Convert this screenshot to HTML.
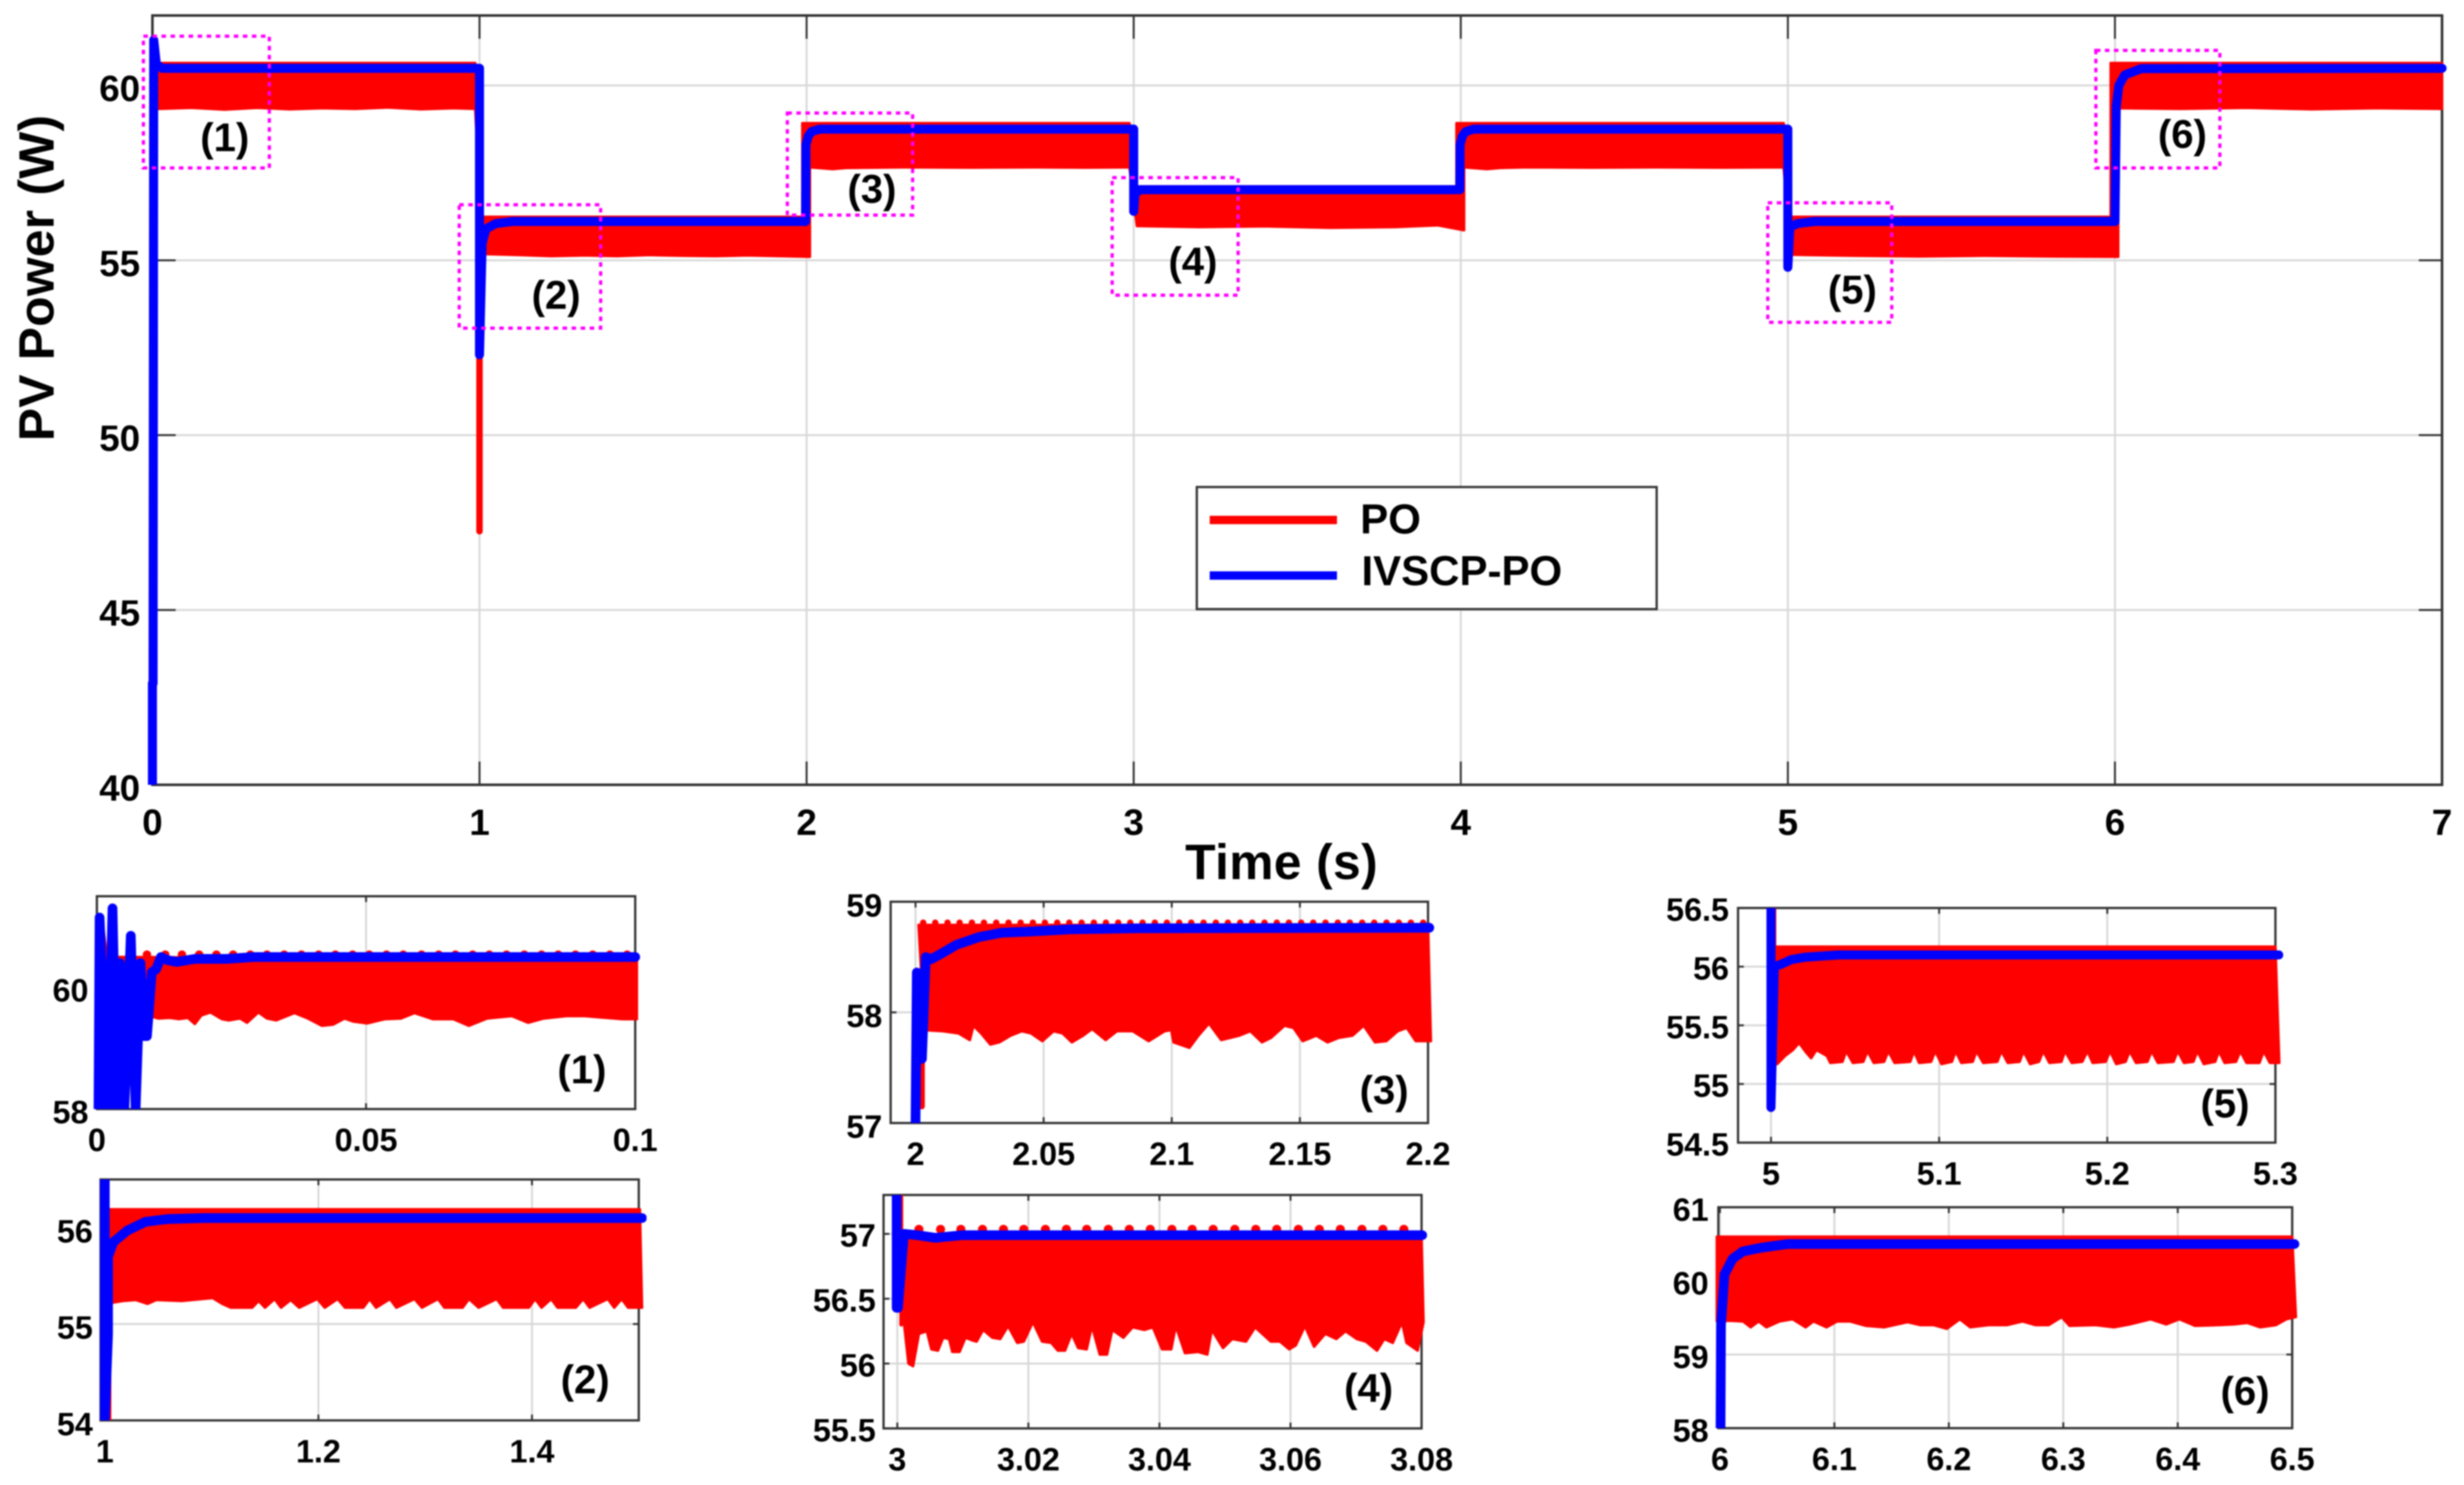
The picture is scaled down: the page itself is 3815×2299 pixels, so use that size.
<!DOCTYPE html>
<html lang="en">
<head>
<meta charset="utf-8">
<title>PV Power comparison of PO and IVSCP-PO</title>
<style>
html,body{margin:0;padding:0;background:#fff;}
svg{display:block;filter:blur(1.1px);}
text{font-family:"Liberation Sans",Arial,sans-serif;font-weight:bold;fill:#000;}
</style>
</head>
<body>
<svg id="chart" xmlns="http://www.w3.org/2000/svg" width="3815" height="2299" viewBox="0 0 3815 2299">
  <rect x="0" y="0" width="3815" height="2299" fill="#ffffff"/>
  <g id="panels"></g>

  <text transform="translate(83,683) rotate(-90)" font-size="77" textLength="505">PV Power (W)</text>
  <text x="1835" y="1361" font-size="77" textLength="298">Time (s)</text>

  <g fill="none" stroke="#ff00ff" stroke-width="5" stroke-dasharray="7 7">
    <rect x="222" y="56" width="195" height="204"/>
    <rect x="711" y="317" width="219" height="191"/>
    <rect x="1219" y="175" width="194" height="158"/>
    <rect x="1722" y="275" width="195" height="182"/>
    <rect x="2737" y="314" width="192" height="185"/>
    <rect x="3245" y="78" width="192" height="182"/>
  </g>
  <g font-size="62" text-anchor="middle">
    <text x="348" y="234">(1)</text>
    <text x="861" y="478">(2)</text>
    <text x="1350" y="314">(3)</text>
    <text x="1847" y="426">(4)</text>
    <text x="2868" y="470">(5)</text>
    <text x="3379" y="229">(6)</text>
  </g>

  <g>
    <rect x="1853" y="754" width="712" height="189" fill="#ffffff" stroke="#333333" stroke-width="3.5"/>
    <line x1="1873" y1="805" x2="2070" y2="805" stroke="#ff0000" stroke-width="13"/>
    <line x1="1873" y1="891" x2="2070" y2="891" stroke="#0000ff" stroke-width="13"/>
    <text x="2106" y="826" font-size="65">PO</text>
    <text x="2108" y="906" font-size="65">IVSCP-PO</text>
  </g>

  <g font-size="62" text-anchor="middle">
    <text x="901" y="1677">(1)</text>
    <text x="906" y="2157">(2)</text>
    <text x="2143" y="1709">(3)</text>
    <text x="2119" y="2170">(4)</text>
    <text x="3445" y="1730">(5)</text>
    <text x="3476" y="2175">(6)</text>
  </g>
</svg>
<script>
/* ---------- main plot data ---------- */
const mainXTicks = [0,1,2,3,4,5,6,7];
const mainYTicks = [40,45,50,55,60];
const mainPoUpperTime = [0.02,0.987,1.01,1.987,1.987,2.987,3.01,3.987,3.987,4.987,5.01,5.987,5.987,7.0];
const mainPoUpper = [60.64,60.64,56.24,56.24,58.92,58.92,57.11,57.11,58.92,58.92,56.24,56.24,60.64,60.64];
const mainPoLowerTime = [0.02,0.12,0.22,0.32,0.42,0.52,0.62,0.72,0.82,0.92,0.987,1.01,1.12,1.22,1.32,1.42,1.52,1.62,1.72,1.82,1.92,2.01,2.01,2.08,2.12,2.3,2.5,2.7,2.85,2.987,3.01,3.2,3.4,3.6,3.8,3.93,4.01,4.01,4.08,4.12,4.2,4.4,4.6,4.8,4.987,5.01,5.2,5.4,5.6,5.8,6.01,6.01,6.2,6.4,6.6,6.8,7.0];
const mainPoLower = [59.33,59.36,59.31,59.36,59.32,59.35,59.33,59.37,59.32,59.35,59.33,55.18,55.15,55.12,55.14,55.12,55.15,55.13,55.12,55.14,55.12,55.1,57.66,57.61,57.64,57.66,57.65,57.66,57.65,57.66,55.98,55.95,55.97,55.93,55.95,56.0,55.86,57.66,57.61,57.64,57.66,57.65,57.66,57.65,57.66,55.16,55.13,55.11,55.13,55.11,55.1,59.35,59.33,59.36,59.32,59.35,59.33];
const mainPoSpikeTime = [1.0,1.0];
const mainPoSpikePower = [56,47.25];
const mainIvscpTime = [0.0,0.0,0.002,0.004,0.012,0.03,1.0,1.0,1.008,1.02,1.05,1.1,1.997,1.998,2.005,2.015,2.04,3.0,3.0,3.004,3.02,3.997,3.998,4.005,4.015,4.04,5.0,5.0,5.006,5.03,5.08,6.0,6.004,6.012,6.03,6.08,7.0];
const mainIvscpPower = [40,42.9,42.9,61.3,60.6,60.49,60.49,52.3,55.5,55.9,56.05,56.11,56.11,58.3,58.55,58.68,58.75,58.75,56.4,56.9,57.02,57.02,58.3,58.55,58.68,58.75,58.75,54.8,55.95,56.05,56.11,56.11,59.4,60.0,60.3,60.48,60.49];

/* ---------- inset 1 data ---------- */
const inset1XTicks = [0,0.05,0.1];
const inset1YTicks = [58,60];
const inset1PoLowerTime = [0.0098,0.0114,0.0136,0.0152,0.0169,0.0182,0.0194,0.0211,0.0232,0.0245,0.0266,0.0279,0.03,0.0316,0.0333,0.0367,0.0392,0.0418,0.0439,0.046,0.0476,0.0502,0.0535,0.0565,0.059,0.0624,0.0662,0.0691,0.0725,0.0771,0.0801,0.083,0.0872,0.0906,0.0931,0.0977,0.1003];
const inset1PoLower = [59.53,59.49,59.5,59.48,59.5,59.4,59.54,59.59,59.48,59.46,59.49,59.42,59.59,59.49,59.46,59.58,59.49,59.37,59.39,59.49,59.44,59.41,59.48,59.49,59.58,59.48,59.48,59.37,59.49,59.53,59.42,59.49,59.53,59.53,59.51,59.48,59.48];
const inset1PoUpperTime = [0.004,0.1003];
const inset1PoUpper = [60.5,60.45];
const inset1PeakTime = [0.0093,0.0127,0.0158,0.019,0.0222,0.0253,0.0285,0.0316,0.0348,0.038,0.0412,0.0443,0.0475,0.0506,0.0538,0.0569,0.0603,0.0635,0.0666,0.0698,0.0729,0.0761,0.0794,0.0826,0.0857,0.0889,0.0921,0.0953,0.0985];
const inset1PeakPower = [60.54];
const inset1PoSpikeTime = [0.0002,0.0007,0.0018,0.002,0.002];
const inset1PoSpikePower = [58,61.18,60.35,60.3,58];
const inset1IvscpTime = [0.0003,0.0005,0.002,0.0029,0.0037,0.0043,0.0051,0.0063,0.0072,0.0081,0.0088,0.0093,0.0102,0.011,0.0119,0.0131,0.0148,0.0182,0.0241,0.0291,0.1];
const inset1IvscpPower = [58,61.15,58,61.3,58,60.4,58,60.85,58,60.4,59.2,59.2,60.25,60.3,60.5,60.45,60.42,60.47,60.47,60.5,60.5];

/* ---------- inset 2 data ---------- */
const inset2XTicks = [1,1.2,1.4];
const inset2YTicks = [54,55,56];
const inset2PoLowerTime = [1.006,1.017,1.029,1.04,1.048,1.072,1.101,1.11,1.118,1.138,1.144,1.15,1.159,1.165,1.174,1.182,1.199,1.206,1.218,1.225,1.242,1.248,1.254,1.267,1.273,1.29,1.297,1.312,1.318,1.335,1.341,1.35,1.367,1.373,1.397,1.403,1.409,1.418,1.424,1.441,1.448,1.454,1.471,1.477,1.484,1.49,1.503];
const inset2PoLower = [55.22,55.24,55.25,55.21,55.25,55.24,55.27,55.21,55.17,55.17,55.24,55.17,55.26,55.17,55.25,55.17,55.26,55.17,55.26,55.17,55.17,55.26,55.17,55.26,55.17,55.26,55.17,55.26,55.17,55.17,55.26,55.17,55.26,55.17,55.17,55.26,55.17,55.26,55.17,55.17,55.26,55.17,55.26,55.17,55.26,55.17,55.17];
const inset2PoUpperTime = [1.004,1.501];
const inset2PoUpper = [56.19,56.19];
const inset2PoSpikeTime = [1.004,1.004];
const inset2PoSpikePower = [55.5,54];
const inset2IvscpTime = [1.0,1.0,1.003,1.003,1.008,1.021,1.038,1.059,1.093,1.503];
const inset2IvscpPower = [56.5,54,54.9,55.7,55.85,55.97,56.06,56.09,56.1,56.1];

/* ---------- inset 3 data ---------- */
const inset3XTicks = [2,2.05,2.1,2.15,2.2];
const inset3YTicks = [57,58,59];
const inset3PoLowerTime = [2.0035,2.0106,2.0168,2.0212,2.0226,2.0256,2.0292,2.0327,2.0371,2.0415,2.0451,2.0495,2.0539,2.0574,2.061,2.0654,2.0689,2.0742,2.0786,2.0848,2.091,2.0972,2.0998,2.1007,2.1069,2.1104,2.1145,2.1193,2.1263,2.1307,2.1352,2.1387,2.144,2.1475,2.1511,2.1564,2.1608,2.1652,2.1705,2.1749,2.1793,2.1837,2.1882,2.1917,2.1952,2.2011];
const inset3PoLower = [57.84,57.83,57.81,57.75,57.88,57.81,57.71,57.73,57.79,57.83,57.81,57.74,57.83,57.81,57.73,57.79,57.85,57.75,57.83,57.83,57.74,57.83,57.84,57.73,57.68,57.79,57.9,57.75,57.79,57.83,57.73,57.77,57.88,57.86,57.74,57.79,57.73,57.77,57.79,57.88,57.73,57.74,57.83,57.86,57.74,57.74];
const inset3PoUpperTime = [2.0012,2.2];
const inset3PoUpper = [58.79,58.79];
const inset3PeakTime = [2.003,2.0077,2.0125,2.0172,2.022,2.0267,2.0315,2.0363,2.041,2.0458,2.0505,2.0553,2.06,2.0648,2.0696,2.0743,2.0791,2.0838,2.0886,2.0934,2.0981,2.1029,2.1076,2.1124,2.1172,2.1219,2.1267,2.1314,2.1362,2.141,2.1457,2.1505,2.1552,2.16,2.1648,2.1695,2.1743,2.179,2.1838,2.1886,2.1933,2.1981];
const inset3PeakPower = [58.81];
const inset3PoSpikeTime = [2.0,2.0,2.0025,2.0025];
const inset3PoSpikePower = [57,58.36,58.36,57.15];
const inset3IvscpTime = [2.0,2.0005,2.0025,2.004,2.006,2.01,2.0159,2.0247,2.0336,2.0442,2.0601,2.0866,2.2005];
const inset3IvscpPower = [57,58.36,57.58,58.5,58.48,58.53,58.61,58.68,58.72,58.73,58.75,58.76,58.765];

/* ---------- inset 4 data ---------- */
const inset4XTicks = [3,3.02,3.04,3.06,3.08];
const inset4YTicks = [55.5,56,56.5,57];
const inset4PoLowerTime = [3.001,3.0017,3.0024,3.0033,3.0045,3.0052,3.0062,3.007,3.0079,3.0084,3.0095,3.0104,3.0114,3.0121,3.0131,3.0145,3.0157,3.0169,3.0183,3.0193,3.0207,3.0221,3.0235,3.0245,3.0256,3.0266,3.0276,3.0289,3.0297,3.0309,3.032,3.0328,3.0345,3.0359,3.0377,3.039,3.0404,3.0418,3.0425,3.0439,3.0459,3.0473,3.048,3.0497,3.0511,3.0532,3.0546,3.057,3.0584,3.0598,3.0608,3.0622,3.0636,3.0653,3.067,3.0684,3.0701,3.0715,3.0732,3.0743,3.0756,3.077,3.0777,3.0794,3.0803];
const inset4PoLower = [56.32,56.0,55.98,56.23,56.25,56.11,56.1,56.2,56.19,56.09,56.09,56.2,56.18,56.17,56.26,56.2,56.19,56.29,56.16,56.17,56.32,56.17,56.16,56.1,56.1,56.23,56.12,56.11,56.29,56.07,56.07,56.26,56.2,56.28,56.26,56.28,56.11,56.11,56.29,56.08,56.09,56.07,56.26,56.12,56.19,56.17,56.28,56.17,56.17,56.11,56.14,56.29,56.13,56.23,56.19,56.25,56.19,56.17,56.1,56.19,56.16,56.32,56.16,56.1,56.32];
const inset4PoUpperTime = [3.001,3.08];
const inset4PoUpper = [56.97,56.97];
const inset4PeakTime = [3.0033,3.0066,3.0097,3.013,3.0162,3.0193,3.0226,3.0258,3.0289,3.0322,3.0354,3.0386,3.0419,3.045,3.0482,3.0515,3.0547,3.0579,3.0612,3.0644,3.0676,3.0709,3.0741,3.0773];
const inset4PeakPower = [57.035];
const inset4PoSpikeTime = [3.0006,3.0006];
const inset4PoSpikePower = [57.3,56.3];
const inset4IvscpTime = [2.9999,2.9999,3.0001,3.001,3.003,3.0058,3.01,3.0801];
const inset4IvscpPower = [57.3,56.43,56.43,57.0,56.99,56.97,56.99,56.99];

/* ---------- inset 5 data ---------- */
const inset5XTicks = [5,5.1,5.2,5.3];
const inset5YTicks = [54.5,55,55.5,56,56.5];
const inset5PoLowerTime = [5.0037,5.0084,5.013,5.0167,5.0208,5.0239,5.027,5.0332,5.0353,5.0425,5.0447,5.0487,5.0549,5.0574,5.0611,5.0673,5.0698,5.0735,5.0828,5.085,5.0881,5.0952,5.0977,5.1014,5.1076,5.1098,5.1132,5.12,5.1222,5.1262,5.1346,5.1371,5.1408,5.1479,5.1501,5.1541,5.1594,5.1619,5.1656,5.1727,5.1749,5.1789,5.1851,5.1882,5.1913,5.1991,5.2016,5.2053,5.2109,5.2133,5.2171,5.2239,5.2264,5.2301,5.2394,5.2419,5.2456,5.2512,5.2536,5.2574,5.2642,5.2664,5.2698,5.2766,5.2791,5.2828,5.2905,5.293,5.2967,5.3023];
const inset5PoLower = [55.17,55.24,55.29,55.35,55.27,55.22,55.29,55.24,55.18,55.19,55.28,55.18,55.19,55.28,55.18,55.19,55.28,55.18,55.19,55.28,55.18,55.19,55.28,55.17,55.19,55.28,55.18,55.19,55.28,55.18,55.19,55.28,55.18,55.19,55.28,55.17,55.19,55.28,55.18,55.19,55.28,55.18,55.19,55.28,55.18,55.19,55.28,55.17,55.19,55.28,55.18,55.19,55.28,55.18,55.19,55.28,55.18,55.19,55.28,55.17,55.19,55.28,55.18,55.19,55.28,55.18,55.18,55.28,55.18,55.18];
const inset5PoUpperTime = [5.002,5.3];
const inset5PoUpper = [56.17,56.17];
const inset5PoSpikeTime = [5.002,5.002];
const inset5PoSpikePower = [56.5,56.0];
const inset5IvscpTime = [5.0,5.0,5.002,5.006,5.012,5.02,5.04,5.06,5.302];
const inset5IvscpPower = [56.5,54.8,56.0,56.02,56.06,56.08,56.1,56.1,56.1];

/* ---------- inset 6 data ---------- */
const inset6XTicks = [6,6.1,6.2,6.3,6.4,6.5];
const inset6YTicks = [58,59,60,61];
const inset6PoLowerTime = [5.9973,6.0087,6.0201,6.0269,6.0338,6.0406,6.0521,6.0635,6.0749,6.0817,6.0932,6.1023,6.1137,6.1274,6.1434,6.1639,6.1753,6.1868,6.1982,6.2096,6.2187,6.2347,6.2507,6.2644,6.2758,6.2872,6.2986,6.3055,6.3283,6.3443,6.358,6.3763,6.39,6.4014,6.4151,6.4356,6.4493,6.4607,6.4721,6.4858,6.495,6.5032];
const inset6PoLower = [59.45,59.46,59.45,59.37,59.45,59.37,59.45,59.48,59.37,59.45,59.37,59.45,59.45,59.39,59.37,59.44,59.4,59.4,59.35,59.48,59.37,59.4,59.4,59.45,59.4,59.4,59.51,59.39,59.4,59.37,59.41,59.48,59.41,59.48,59.39,59.4,59.41,59.43,59.37,59.4,59.48,59.51];
const inset6PoUpperTime = [5.9973,6.5];
const inset6PoUpper = [60.6,60.6];
const inset6IvscpTime = [6.0005,6.0009,6.004,6.011,6.02,6.036,6.059,6.502];
const inset6IvscpPower = [58,59.4,60.09,60.3,60.4,60.45,60.5,60.5];

const NS = 'http://www.w3.org/2000/svg';
const root = document.getElementById('panels');

function mk(parent, tag, attrs) {
  const el = document.createElementNS(NS, tag);
  for (const k in attrs) el.setAttribute(k, attrs[k]);
  parent.appendChild(el);
  return el;
}
function pts(sx, sy, ts, vs) {
  return ts.map((t, i) => sx(t).toFixed(1) + ',' + sy(vs[i]).toFixed(1)).join(' ');
}

function drawPanel(opt) {
  const sx = t => opt.l + (t - opt.xMin) / (opt.xMax - opt.xMin) * (opt.r - opt.l);
  const sy = v => opt.b - (v - opt.yMin) / (opt.yMax - opt.yMin) * (opt.b - opt.t);
  const g = mk(root, 'g', {});
  
  

  const clipId = 'clip-' + opt.name;
  const defs = mk(g, 'defs', {});
  const cp = mk(defs, 'clipPath', {id: clipId});
  mk(cp, 'rect', {x: opt.l - 12, y: opt.t, width: opt.r - opt.l + 24, height: opt.b - opt.t});

  const frame = () => {
    const box = mk(g, 'rect', {x: opt.l, y: opt.t, width: opt.r - opt.l, height: opt.b - opt.t, fill: 'none', stroke: '#333333', 'stroke-width': opt.frameW});
    
    
  };

  opt.xTicks.forEach(t => {
    const x = sx(t);
    const grid = mk(g, 'line', {x1: x, x2: x, y1: opt.t, y2: opt.b, stroke: '#d8d8d8', 'stroke-width': 3});
    
    
    [[opt.b, opt.b - opt.tick], [opt.t, opt.t + opt.tick]].forEach(p => {
      const tk = mk(g, 'line', {x1: x, x2: x, y1: p[0], y2: p[1], stroke: '#333333', 'stroke-width': 3});
      
      
    });
    const lab = mk(g, 'text', {x: x, y: opt.b + opt.xLabelGap + 0.358 * opt.font, 'font-size': opt.font, 'text-anchor': 'middle'});
    lab.textContent = String(t);
    
    
  });

  opt.yTicks.forEach(v => {
    const y = sy(v);
    const grid = mk(g, 'line', {x1: opt.l, x2: opt.r, y1: y, y2: y, stroke: '#d8d8d8', 'stroke-width': 3});
    
    
    [[opt.l, opt.l + opt.tick], [opt.r, opt.r - opt.tick]].forEach(p => {
      const tk = mk(g, 'line', {x1: p[0], x2: p[1], y1: y, y2: y, stroke: '#333333', 'stroke-width': 3});
      
      
    });
    const lab = mk(g, 'text', {x: opt.l - opt.yLabelGap, y: y + opt.yLabelShift + 0.358 * opt.font, 'font-size': opt.font, 'text-anchor': 'end'});
    lab.textContent = String(v);
    
    
  });

  frame();

  const plot = mk(g, 'g', {'clip-path': 'url(#' + clipId + ')'});
  
  

  const lowT = opt.lowT.slice().reverse();
  const lowV = opt.lowV.slice().reverse();
  const band = mk(plot, 'polygon', {
    points: pts(sx, sy, opt.upT, opt.upV) + ' ' + pts(sx, sy, lowT, lowV),
    fill: '#ff0000', stroke: '#ff0000', 'stroke-width': 4, 'stroke-linejoin': 'round'
  });
  
  

  if (opt.spikeT) {
    const spike = mk(plot, 'polyline', {points: pts(sx, sy, opt.spikeT, opt.spikeV), fill: 'none', stroke: '#ff0000', 'stroke-width': opt.spikeW, 'stroke-linecap': 'round', 'stroke-linejoin': 'round'});
    
    
  }
  if (opt.peakT) {
    opt.peakT.forEach(t => {
      const dot = mk(plot, 'circle', {cx: sx(t), cy: sy(opt.peakV[0]), r: opt.peakR, fill: '#ff0000'});
      
      
    });
  }
  const blue = mk(plot, 'polyline', {points: pts(sx, sy, opt.blueT, opt.blueV), fill: 'none', stroke: '#0000ff', 'stroke-width': opt.blueW, 'stroke-linecap': 'round', 'stroke-linejoin': 'round'});
  
  
}

drawPanel({name:'main-plot', l:236, r:3781, t:24, b:1215, xMin:0, xMax:7, yMin:40, yMax:62, frameW:4, tick:36, font:57, xLabelGap:57, yLabelGap:19, yLabelShift:4,
  xTicks:mainXTicks, yTicks:mainYTicks, upT:mainPoUpperTime, upV:mainPoUpper, lowT:mainPoLowerTime, lowV:mainPoLower,
  spikeT:mainPoSpikeTime, spikeV:mainPoSpikePower, spikeW:10, blueT:mainIvscpTime, blueV:mainIvscpPower, blueW:14});

drawPanel({name:'inset-1', l:150, r:983.5, t:1387.5, b:1717, xMin:0, xMax:0.1, yMin:58, yMax:61.5, frameW:3.5, tick:9, font:50, xLabelGap:47, yLabelGap:13, yLabelShift:4,
  xTicks:inset1XTicks, yTicks:inset1YTicks, upT:inset1PoUpperTime, upV:inset1PoUpper, lowT:inset1PoLowerTime, lowV:inset1PoLower,
  peakT:inset1PeakTime, peakV:inset1PeakPower, peakR:6.5, spikeT:inset1PoSpikeTime, spikeV:inset1PoSpikePower, spikeW:8, blueT:inset1IvscpTime, blueV:inset1IvscpPower, blueW:15});

drawPanel({name:'inset-2', l:155.7, r:989, t:1826, b:2199, xMin:0.996, xMax:1.5, yMin:54, yMax:56.5, frameW:3.5, tick:9, font:50, xLabelGap:47, yLabelGap:12, yLabelShift:5,
  xTicks:inset2XTicks, yTicks:inset2YTicks, upT:inset2PoUpperTime, upV:inset2PoUpper, lowT:inset2PoLowerTime, lowV:inset2PoLower,
  spikeT:inset2PoSpikeTime, spikeV:inset2PoSpikePower, spikeW:7, blueT:inset2IvscpTime, blueV:inset2IvscpPower, blueW:15});

drawPanel({name:'inset-3', l:1379, r:2211, t:1396, b:1738.6, xMin:1.9903, xMax:2.2, yMin:57, yMax:59, frameW:3.5, tick:9, font:50, xLabelGap:47, yLabelGap:13, yLabelShift:5,
  xTicks:inset3XTicks, yTicks:inset3YTicks, upT:inset3PoUpperTime, upV:inset3PoUpper, lowT:inset3PoLowerTime, lowV:inset3PoLower,
  peakT:inset3PeakTime, peakV:inset3PeakPower, peakR:5, spikeT:inset3PoSpikeTime, spikeV:inset3PoSpikePower, spikeW:9, blueT:inset3IvscpTime, blueV:inset3IvscpPower, blueW:15});

drawPanel({name:'inset-4', l:1368, r:2201, t:1850, b:2211.4, xMin:2.9979, xMax:3.08, yMin:55.5, yMax:57.3, frameW:3.5, tick:9, font:50, xLabelGap:47, yLabelGap:12, yLabelShift:2,
  xTicks:inset4XTicks, yTicks:inset4YTicks, upT:inset4PoUpperTime, upV:inset4PoUpper, lowT:inset4PoLowerTime, lowV:inset4PoLower,
  peakT:inset4PeakTime, peakV:inset4PeakPower, peakR:7, spikeT:inset4PoSpikeTime, spikeV:inset4PoSpikePower, spikeW:6, blueT:inset4IvscpTime, blueV:inset4IvscpPower, blueW:15});

drawPanel({name:'inset-5', l:2691, r:3523, t:1405.7, b:1769, xMin:4.9804, xMax:5.3, yMin:54.5, yMax:56.5, frameW:3.5, tick:9, font:50, xLabelGap:47, yLabelGap:14, yLabelShift:2,
  xTicks:inset5XTicks, yTicks:inset5YTicks, upT:inset5PoUpperTime, upV:inset5PoUpper, lowT:inset5PoLowerTime, lowV:inset5PoLower,
  spikeT:inset5PoSpikeTime, spikeV:inset5PoSpikePower, spikeW:6, blueT:inset5IvscpTime, blueV:inset5IvscpPower, blueW:14});

drawPanel({name:'inset-6', l:2660.5, r:3549, t:1869, b:2211, xMin:5.9986, xMax:6.5, yMin:58, yMax:61, frameW:3.5, tick:9, font:50, xLabelGap:47, yLabelGap:15, yLabelShift:3,
  xTicks:inset6XTicks, yTicks:inset6YTicks, upT:inset6PoUpperTime, upV:inset6PoUpper, lowT:inset6PoLowerTime, lowV:inset6PoLower,
  blueT:inset6IvscpTime, blueV:inset6IvscpPower, blueW:15});
</script>
</body>
</html>
